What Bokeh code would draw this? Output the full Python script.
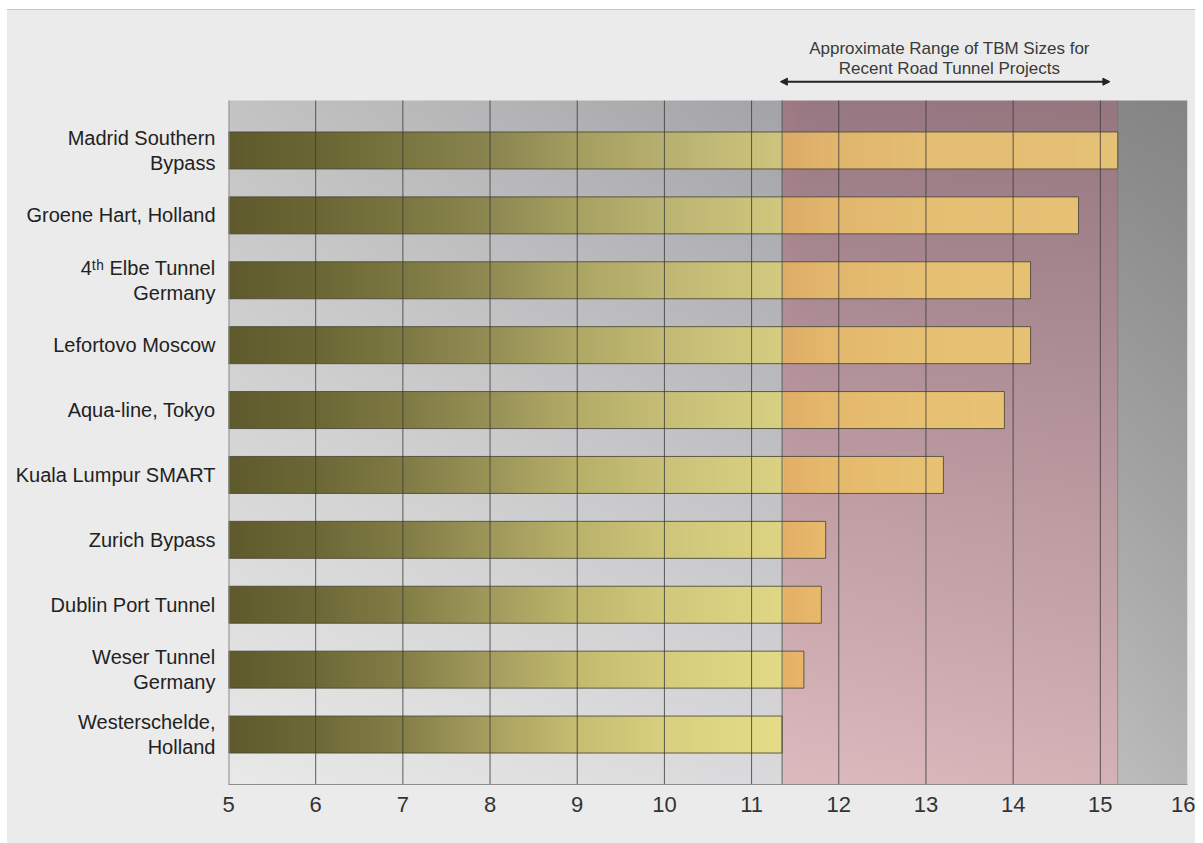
import numpy as np
from bokeh.plotting import figure
from bokeh.models import Range1d, FixedTicker, Label, Arrow, NormalHead, Spacer
from bokeh.layouts import row, column
from bokeh.embed import file_html
from bokeh.resources import INLINE

# ---- data -------------------------------------------------------------
projects = [
    "Madrid Southern\nBypass",
    "Groene Hart, Holland",
    "4\u1d57\u02b0 Elbe Tunnel\nGermany",
    "Lefortovo Moscow",
    "Aqua-line, Tokyo",
    "Kuala Lumpur SMART",
    "Zurich Bypass",
    "Dublin Port Tunnel",
    "Weser Tunnel\nGermany",
    "Westerschelde,\nHolland",
]
tbm_diameter_m = [15.2, 14.75, 14.2, 14.2, 13.9, 13.2, 11.85, 11.8, 11.6, 11.35]
x_ticks = [5, 6, 7, 8, 9, 10, 11, 12, 13, 14, 15, 16]
road_range = (11.35, 15.2)          # shaded band of recent road tunnel TBMs
arrow_span = (11.33, 15.11)
note_lines = ["Approximate Range of TBM Sizes for", "Recent Road Tunnel Projects"]

X_MIN, X_MAX = 5, 16
Y_MIN, Y_TOP = -0.77, 9.77          # extent of the chart panel
Y_VIEW = 11.157                     # room above the panel for the range note
BAR_H = 0.57
rows = list(range(len(projects)))[::-1]   # first project on top

FONT = "Liberation Sans"
PAGE_GREY = "#ebebeb"


def rgb(h):
    h = h.lstrip("#")
    return np.array([int(h[i:i + 2], 16) for i in (0, 2, 4)], dtype=float)


def ramp(xs, stops_x, stops_c):
    cols = np.array([rgb(c) for c in stops_c])
    return np.stack([np.interp(xs, stops_x, cols[:, k]) for k in range(3)], axis=-1)


def to_rgba_image(arr):
    h, w, _ = arr.shape
    img = np.empty((h, w), dtype=np.uint32)
    view = img.view(dtype=np.uint8).reshape((h, w, 4))
    view[:, :, :3] = np.clip(arr, 0, 255).astype(np.uint8)
    view[:, :, 3] = 255
    return img


# ---- background shading (vertical fade, three zones) -------------------
W, H = 880, 160
bx = X_MIN + (np.arange(W) + 0.5) * (X_MAX - X_MIN) / W
t = np.linspace(0, 1, H)[:, None, None]           # 0 = bottom, 1 = top
lo, hi = road_range
top = np.where((bx < lo)[:, None],
               ramp(bx, [X_MIN, lo], ["#c4c4c4", "#a4a4a8"]),
               np.where((bx < hi)[:, None],
                        ramp(bx, [lo, lo + 0.3, hi], ["#a07a84", "#987882", "#967780"]),
                        ramp(bx, [hi, X_MAX], ["#878787", "#848484"])))
bot = np.where((bx < lo)[:, None],
               ramp(bx, [X_MIN, lo], ["#e9e9e9", "#dadadc"]),
               np.where((bx < hi)[:, None],
                        ramp(bx, [lo, hi], ["#dcbabe", "#d4b2b6"]),
                        ramp(bx, [hi, X_MAX], ["#bdbdbd", "#b6b6b6"])))
bg = bot[None, :, :] * (1 - t) + top[None, :, :] * t

# ---- figure ------------------------------------------------------------
p = figure(
    width=1188, height=833,
    x_range=Range1d(X_MIN, X_MAX), y_range=Range1d(Y_MIN, Y_VIEW),
    output_backend="svg", toolbar_location=None,
    min_border_left=221, min_border_right=8,
    min_border_top=0, min_border_bottom=59,
    border_fill_color=None, background_fill_color=None,
    styles={"background-color": PAGE_GREY},
)
p.outline_line_color = None
p.grid.visible = False

p.image_rgba(image=[to_rgba_image(bg)], x=X_MIN, y=Y_MIN,
             dw=X_MAX - X_MIN, dh=Y_TOP - Y_MIN)

# ---- bars: olive-to-yellow fade, warmer inside the shaded band ----------
stops_x = [5, 6, 7, 8, 9, 10, 11, lo]
bar_top = ["#5e5a2c", "#6a6634", "#7a7640", "#8a8550", "#a49e60", "#b8b070", "#c8c07a", "#cec67e"]
bar_bot = ["#5e5a2c", "#6e6a38", "#857f48", "#a8a060", "#c6be70", "#d8d07e", "#e2da84", "#e4dc86"]
warm_x = [lo, lo + 0.45, 13, 15.3]
warm_top = ["#dcaa66", "#e0b46c", "#e4be72", "#e6c276"]
warm_bot = ["#e6b266", "#eabc6c", "#ecc474", "#eec878"]

n_rows = len(projects)
for yr, val in zip(rows, tbm_diameter_m):
    n = max(2, int(round((val - X_MIN) / 0.01)))
    xs = X_MIN + (np.arange(n) + 0.5) * (val - X_MIN) / n
    f = yr / (n_rows - 1)
    cool = ramp(xs, stops_x, bar_bot) * (1 - f) + ramp(xs, stops_x, bar_top) * f
    warm = ramp(xs, warm_x, warm_bot) * (1 - f) + ramp(xs, warm_x, warm_top) * f
    line = np.where((xs < lo)[:, None], cool, warm)
    arr = np.repeat(line[None, :, :], 2, axis=0)
    p.image_rgba(image=[to_rgba_image(arr)], x=X_MIN, y=yr - BAR_H / 2,
                 dw=val - X_MIN, dh=BAR_H)

p.hbar(y=rows, left=X_MIN, right=tbm_diameter_m, height=BAR_H,
       fill_color=None, line_color="#4a4736", line_width=1, line_alpha=0.85)

# ---- vertical grid lines drawn over the bars ---------------------------
inner = x_ticks[1:-1]
p.segment(x0=inner, x1=inner, y0=[Y_MIN] * len(inner), y1=[Y_TOP] * len(inner),
          line_color="#3a3a3a", line_alpha=0.8, line_width=1)
p.segment(x0=[lo], x1=[lo], y0=[Y_MIN], y1=[Y_TOP],
          line_color="#444444", line_alpha=0.8, line_width=1)
p.segment(x0=[hi], x1=[hi], y0=[Y_MIN], y1=[Y_TOP],
          line_color="#6a6a6a", line_alpha=0.5, line_width=1)
# left edge of the panel
p.segment(x0=[X_MIN], x1=[X_MIN], y0=[Y_MIN], y1=[Y_TOP],
          line_color="#8c8c8c", line_width=2)

# ---- axes --------------------------------------------------------------
p.xaxis.ticker = FixedTicker(ticks=x_ticks)
p.xaxis.axis_line_color = "#8c8c8c"
p.xaxis.major_tick_line_color = None
p.xaxis.minor_tick_line_color = None
p.xaxis.major_label_text_font = FONT
p.xaxis.major_label_text_font_size = "22px"
p.xaxis.major_label_text_color = "#333333"
p.xaxis.major_label_standoff = 6

p.yaxis.ticker = FixedTicker(ticks=rows)
p.yaxis.major_label_overrides = {r: name for r, name in zip(rows, projects)}
p.yaxis.axis_line_color = None
p.yaxis.major_tick_line_color = None
p.yaxis.minor_tick_line_color = None
p.yaxis.major_label_text_font = FONT
p.yaxis.major_label_text_font_size = "20px"
p.yaxis.major_label_text_color = "#222222"
p.yaxis.major_label_text_line_height = 1.15
p.yaxis.major_label_standoff = 7

# ---- range note with double-headed arrow -------------------------------
note_x = (arrow_span[0] + arrow_span[1]) / 2 + 0.05
for txt, yy in zip(note_lines, [10.57, 10.26]):
    p.add_layout(Label(x=note_x, y=yy, text=txt, text_align="center",
                       text_baseline="middle", text_font=FONT,
                       text_font_size="17px", text_color="#3a3a3a"))
p.add_layout(Arrow(x_start=arrow_span[0], y_start=10.06,
                   x_end=arrow_span[1], y_end=10.06,
                   line_color="#222222", line_width=2,
                   start=NormalHead(size=7, fill_color="#222222", line_color="#222222"),
                   end=NormalHead(size=7, fill_color="#222222", line_color="#222222")))

page = row(
    Spacer(width=7, height=843),
    column(
        Spacer(width=1188, height=9),
        Spacer(width=1188, height=1, styles={"background-color": "#c4c4c4"}),
        p,
    ),
)

open("out.html", "w").write(file_html(page, INLINE))
